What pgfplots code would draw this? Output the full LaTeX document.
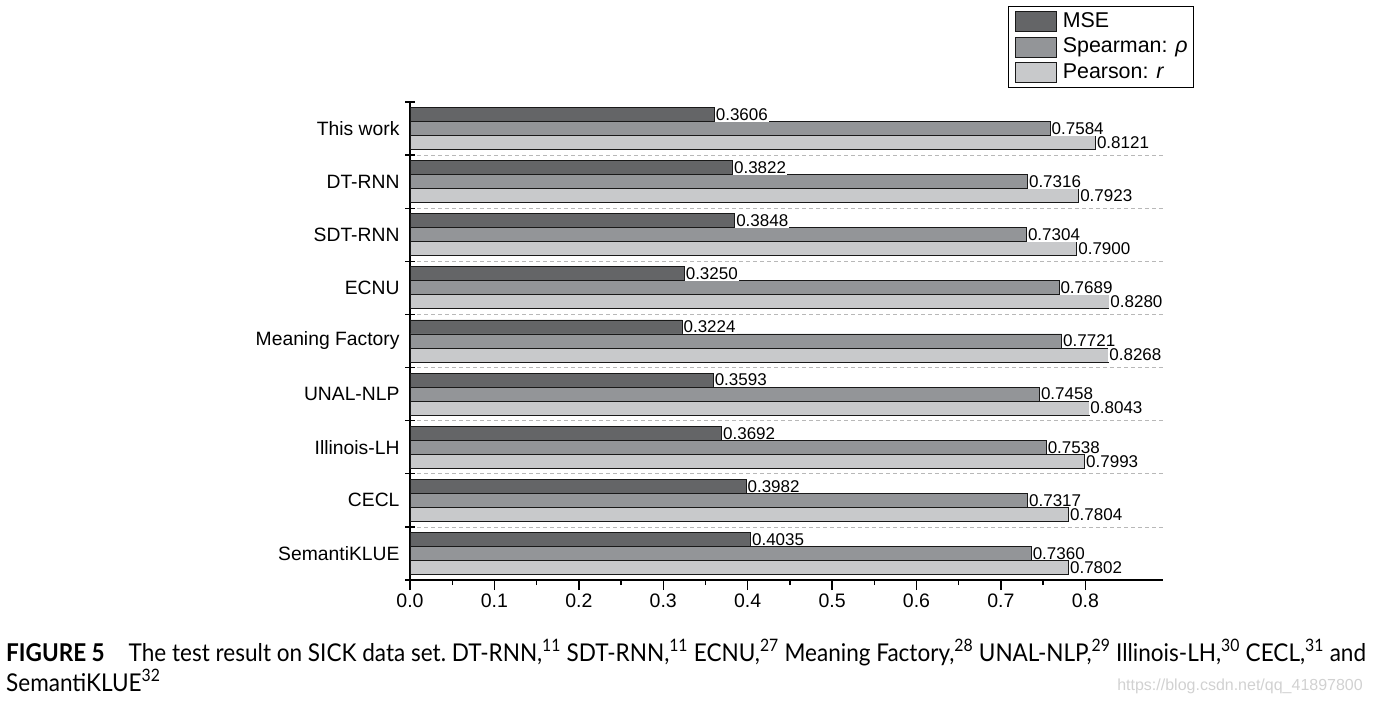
\documentclass[border=0pt]{standalone}
\usepackage{fontspec}
\setmainfont{Liberation Sans}
\newfontfamily\latofont{Lato}
\usepackage{pgfplots}
\pgfplotsset{compat=1.18}
\definecolor{cmse}{HTML}{646567}
\definecolor{csp}{HTML}{939598}
\definecolor{cpe}{HTML}{C8C9CB}
\newsavebox\capbox
\newcommand\capfont{\latofont\fontsize{24.5}{28}\selectfont\frenchspacing}
\begin{document}
\sbox\capbox{\capfont\textbf{FIGURE 5}\hspace{26pt}The test result on SICK data set. DT-RNN,\textsuperscript{11} SDT-RNN,\textsuperscript{11} ECNU,\textsuperscript{27} Meaning Factory,\textsuperscript{28} UNAL-NLP,\textsuperscript{29} Illinois-LH,\textsuperscript{30} CECL,\textsuperscript{31} and}%
\pgfmathsetmacro\capscale{1360/\the\wd\capbox}%
\begin{tikzpicture}[x=1pt,y=1pt]
\useasboundingbox (0,0) rectangle (1373,702);
\begin{axis}[
  at={(410pt,122pt)}, anchor=south west,
  scale only axis, width=753pt, height=478pt,
  xmin=0, xmax=0.892, ymin=-0.5, ymax=8.5,
  axis x line*=bottom, axis y line*=left,
  axis line style={line width=1.6pt},
  xbar, bar width=0.264,
  xtick={0,0.1,...,0.8},
  minor x tick num=1,
  major tick length=10pt, minor tick length=5pt,
  tick align=outside,
  every tick/.style={black, line width=1.4pt},
  ytick style={draw=none},
  xticklabel style={font=\fontsize{19.5}{21}\selectfont, /pgf/number format/.cd, fixed, zerofill, precision=1, assume math mode=true},
  ytick={-0.5,0.5,...,8.5},
  yticklabels={SemantiKLUE,CECL,Illinois-LH,UNAL-NLP,Meaning Factory,ECNU,SDT-RNN,DT-RNN,This work,{}},
  yticklabel style={font=\fontsize{19.3}{21}\selectfont, yshift=26.55pt, xshift=3pt},
  clip=false,
  nodes near coords={\pgfmathprintnumber[fixed,zerofill,precision=4,assume math mode=true]{\pgfplotspointmeta}},
  point meta=x,
  nodes near coords style={anchor=west, fill=white, inner sep=1pt, font=\fontsize{17}{17}\selectfont},
  every axis plot/.append style={draw=black!90, line width=0.9pt, bar shift=0pt},
  legend image code/.code={\path (0pt,0pt); \draw[#1, line width=0.9pt] (4pt,-10pt) rectangle (45pt,10pt);},
  legend style={at={(0.7942,1.2008)}, anchor=north west, draw=black, line width=0.8pt,
    font=\fontsize{21.4}{23}\selectfont, row sep=0pt, column sep=2.5pt, inner xsep=3pt, inner ysep=2pt,
    nodes={inner xsep=3pt, inner ysep=2pt, text height=16.8pt, text depth=4.9pt}},
  legend cell align=left,
]
\addplot[fill=cmse] coordinates {
(0.4035,0.264) (0.3982,1.264) (0.3692,2.264) (0.3593,3.264) (0.3224,4.264)
(0.3250,5.264) (0.3848,6.264) (0.3822,7.264) (0.3606,8.264)};
\addplot[fill=csp] coordinates {
(0.7360,0) (0.7317,1) (0.7538,2) (0.7458,3) (0.7721,4)
(0.7689,5) (0.7304,6) (0.7316,7) (0.7584,8)};
\addplot[fill=cpe] coordinates {
(0.7802,-0.264) (0.7804,0.736) (0.7993,1.736) (0.8043,2.736) (0.8268,3.736)
(0.8280,4.736) (0.7900,5.736) (0.7923,6.736) (0.8121,7.736)};
\legend{MSE, {Spearman: \textit{ρ}}, {Pearson: \textit{r}}}
\pgfplotsinvokeforeach{0.5,1.5,...,7.5}{
  \draw[dash pattern=on 4pt off 3pt, black!28, line width=0.7pt] (axis cs:0,#1) -- (axis cs:0.892,#1);}
\pgfplotsinvokeforeach{-0.5,0.5,...,8.5}{
  \draw[black, line width=1.4pt] ([xshift=-5pt]axis cs:0,#1) -- ([xshift=5pt]axis cs:0,#1);}
\end{axis}
\node[anchor=base west, inner sep=0pt] at (6,41) {\scalebox{\capscale}[1]{\usebox\capbox}};
\node[anchor=base west, inner sep=0pt] at (6,11)
 {\scalebox{\capscale}[1]{\capfont SemantiKLUE\textsuperscript{32}}};
\node[anchor=base east, font=\fontsize{16}{18}\selectfont, text=black!18, inner sep=0pt] at (1363,12)
 {https://blog.csdn.net/qq\_41897800};
\end{tikzpicture}
\end{document}
